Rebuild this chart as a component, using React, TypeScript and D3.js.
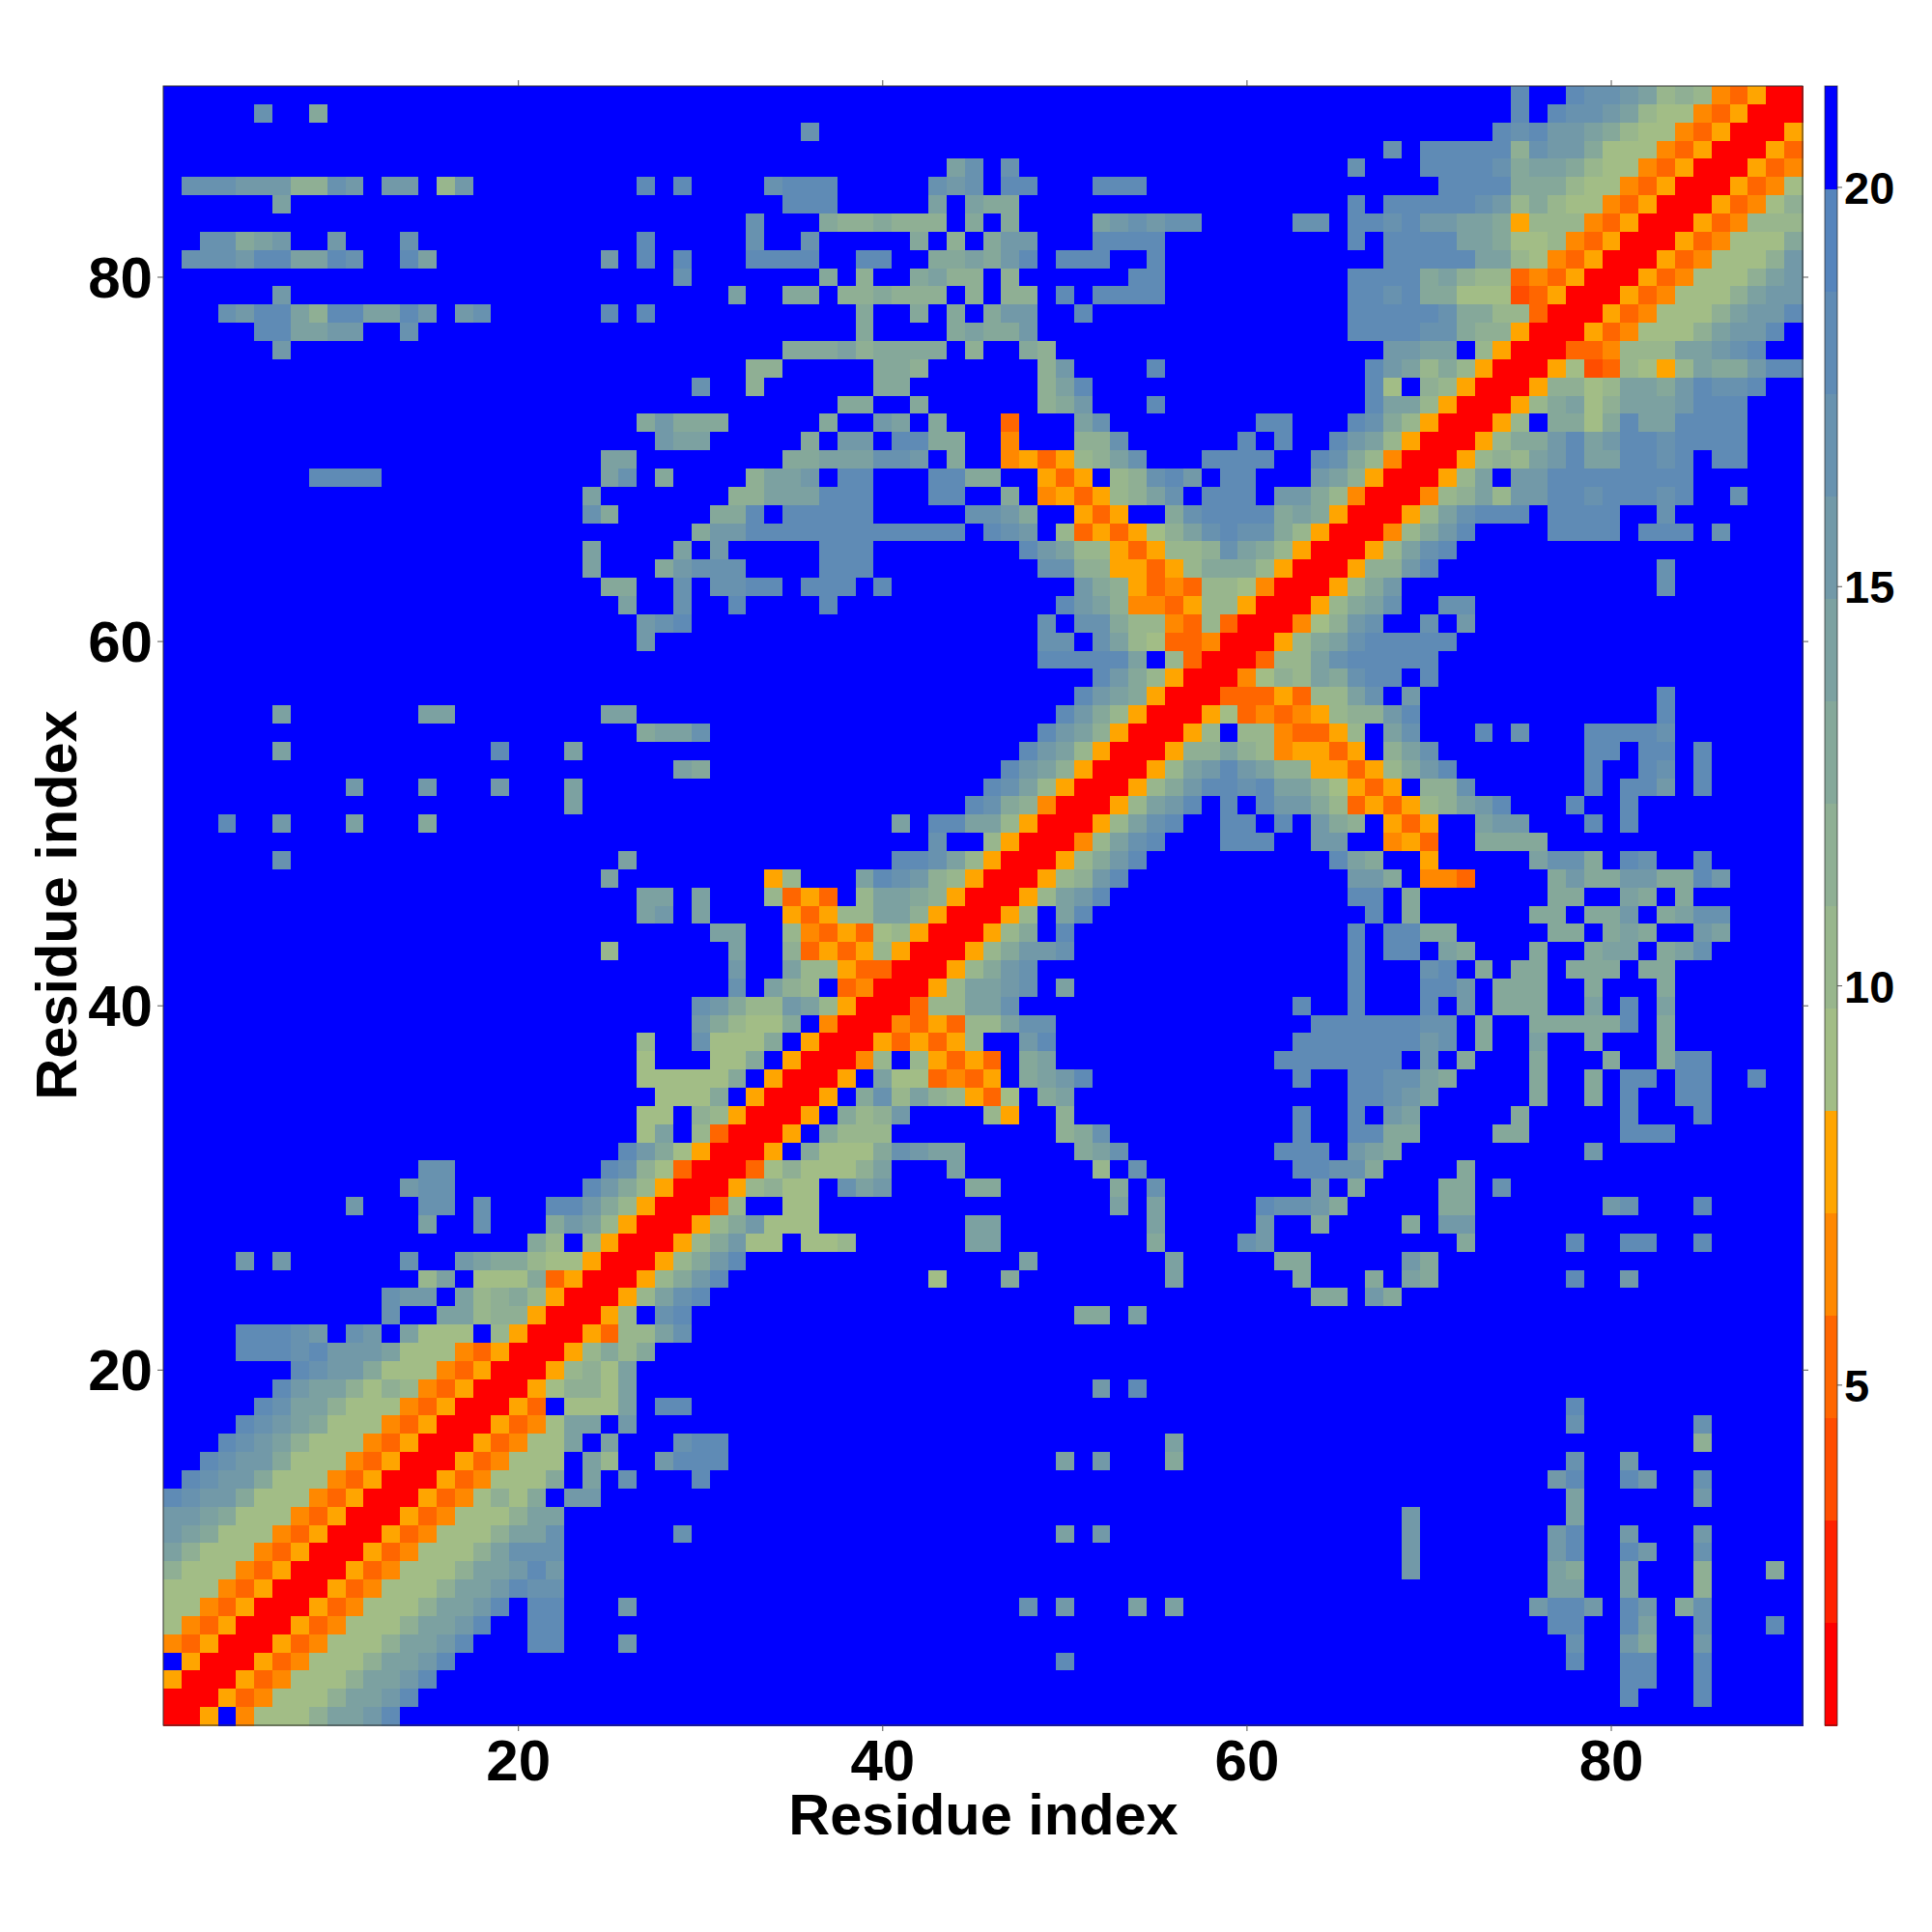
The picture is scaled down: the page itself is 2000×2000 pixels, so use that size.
import React from "react";
import * as d3 from "d3";

// Each row runs top to bottom (residue 90 down to 1). Tokens: startColumn:levels (0-based column).
// Levels: R,1,2,3,4,5 = red to amber bands; a..i = sage to steel bands; anything absent = beyond the scale (blue).
const rowsTop: string[] = [
  "74:h 77:hggfebcb435RR",
  "5:g 8:d 74:h 76:hggfebaa435RRR",
  "35:g 73:hghffedbaa435RRR5",
  "67:g 69:hhhhhcgffdaaa435RRR53",
  "43:eg 46:g 65:g 69:hhhhgdeedbaa435RRR534",
  "1:gggfffccgf 12:ff 15:bf 26:h 28:h 33:ghhh 42:gfg 46:hh 51:hhh 70:hhhhdddbaa435RRR534a",
  "6:e 34:hhh 42:e 44:edd 65:h 67:hhhhhgfbdbaa435RRR534ac",
  "32:g 36:dccdccc 44:d 46:d 51:efgfgg 62:gg 65:hhghffeed5bbb435RRR534bbb",
  "2:ggdef 9:f 13:g 26:h 32:g 35:g 41:d 43:c 45:dff 51:hhhh 65:h 67:hhhheedaab435RRR534aaad",
  "1:gggfhheehg 13:he 24:f 26:h 28:h 32:hhhh 38:hh 42:ddedfh 49:hhh 54:h 67:hhhhheeba435RRR534aaacf",
  "28:g 36:d 38:c 41:de 43:cc 46:c 53:hh 65:hhhhdecbb3435RRR534aaacef",
  "6:f 31:e 34:dd 37:ccdccc 44:c 46:cc 49:h 51:hhhh 65:hhghddaaa235RRR534aaaceff",
  "3:gfhhechheehf 16:fg 24:h 26:h 38:d 41:d 43:d 45:dff 50:h 65:hhhhhgddbb3RRR534aaaceffh",
  "5:hheeff 13:g 38:d 43:deddf 65:hhhhggdcc5RRR534aaaceffh",
  "6:f 34:dddecdddd 44:c 47:dc 67:ffee 72:b5RRR334bbbeefgh",
  "32:cc 39:ddc 48:cf 54:h 66:hfebdb5RRR5a23ba5beddfhh",
  "29:g 32:c 39:dd 48:ceh 66:ha 69:cb5RRR5ccabeedfhggh",
  "37:dd 41:d 48:cdf 54:h 66:heeb5RRR5bdeaceeefhhh",
  "26:dfddd 36:d 39:fe 42:d 46:3 50:eg 60:hh 65:hgdb5RRR5b 76:ddadheehhhh",
  "27:fee 35:d 37:ff 40:hhdd 46:4 50:ccg 59:h 61:h 64:hfeb5RRR5bddfhefhhghhhh",
  "24:ee 34:ddeeeggf 43:d 46:4535bceg 57:hhhh 63:hgdb4RRR5bcbefheehhgh 85:hh",
  "8:hhhh 24:eg 27:d 32:ceef 37:hh 42:hhdd 48:535 52:bcghf 58:hh 63:fec5RRR5be 74:ffhhhhhhhh",
  "23:e 31:cceeehhh 42:hh 46:d 48:4535bceg 57:hhh 61:ffdb4RRR4bcebffhhghhhgh 86:g",
  "23:gd 30:ddh 34:hhhhh 44:ggfd 50:535 55:dghhhhded5RRR5beghhh 76:hhhh 82:g",
  "29:dffhhhhhhhhhhhh 45:hgf 49:b3535aceghggdb5RRR4bdfh 76:hhhh 81:hhh 85:g",
  "23:e 28:e 30:f 36:hhh 47:hfebb535bbcgedb5RRR5begh",
  "23:e 27:dfggg 36:hhh 48:ggcc5535bdddb5RRR5ccfh 82:g",
  "24:dd 28:g 30:gghh 35:hhh 39:h 50:fdc5343bba4RRR5bdf 82:g",
  "25:e 28:g 31:h 36:h 49:hfec4435bb5RRR5bdeg 70:gg",
  "26:fgh 48:g 50:ggdbb43b3RRR4acfg 69:g 71:f",
];

const rowsMiddle: string[] = [
  "26:f 48:gg 51:geba334RRR5bdeghhhhh",
  "48:hhhhhe 55:b3RRR3bbeghhhhh",
  "51:hfdb5RRR4acbedghh 69:h",
  "50:hfed5RRR33353bbeg 68:f 82:h",
  "6:e 14:ee 24:ee 49:hfdb5RRR5a34345bccfh 82:h",
  "26:deeg 48:hfec5RRR5b 59:bb4335b 67:eg 72:h 74:g 78:hhhhg",
  "6:e 18:h 22:e 47:hfeb5RRR5ccecb45535 67:ceg 78:hh 81:hh 84:h",
  "28:ed 46:hfec5RRR5befhfecc5535bdfh 78:h 81:hg 84:h",
  "10:f 14:f 18:f 22:e 45:hgeb5RRR5bdfhhgheeca535 69:ccg 78:h 80:hhf 84:h",
  "22:e 44:hgdc4RRR5befh 58:h 60:hffdb3535bcefh 77:h 80:h",
  "3:h 6:f 10:e 14:d 40:e 42:hheeb5RRR5begh 58:hh 61:h 63:fdc 67:535 72:eff 78:h 80:h",
  "42:g 45:b5RRR4begh 58:hhh 63:ff 67:453 72:dddd",
  "6:g 25:e 40:hhgeb5RRR5bdfh 64:hed 69:5 75:eggd 80:hg 84:h",
  "24:e 33:5b 38:ehgfcb5RRR5bcfh 65:ffd 69:443 76:dfddffddhf",
  "26:ee 29:e 33:b353 38:beedc5RRR5befh 65:hh 68:d 76:dd 80:ed 83:d",
  "26:ef 29:e 34:535bbeec5RRR5b 49:eh 66:h 68:d 75:dd 78:ddf 82:degg",
  "30:ee 34:b4353ab5RRR5bd 49:h 65:h 67:hhdd 76:dd 79:ded 84:fe",
  "24:b 31:e 34:c3535b5RRR5bdffg 65:h 67:hh 70:ed 75:d 78:dee 82:deg",
  "31:f 34:ebb533RRR5bdfg 65:h 69:gh 72:d 74:dd 77:ddd 81:dd",
  "31:g 33:ecb 37:34RRR5beefg 49:e 65:h 69:hhf 73:ddd 78:d 82:d",
  "29:gfdbbfeb5RRR3bbeeg 62:h 65:h 69:h 71:f 73:ddd 78:e 80:h 82:e",
  "29:fdbaad 36:4RRR4353bbegg 63:hhhhhhgg 72:d 75:ddddd 80:h 82:d",
  "26:b 29:gaaad 35:5RRR53535b 47:fh 62:hhhhhhhfg 72:d 75:e 78:d 82:d",
  "26:a 30:aad 34:5RRR4b 41:b5353 47:de 61:hhhhhhh 69:f 71:d 75:d 79:d 82:dhh",
  "26:aaaaa 31:d 33:5RRR5 39:eaa3435 47:defh 62:h 65:hhgged 75:d 78:d 80:hh 83:hh 87:h",
  "27:aaa 30:d 32:5RRR5 38:dgbecb53a 48:de 65:hhgfe 75:d 78:d 80:h 83:hh",
  "26:aa 29:cb5RRR5 37:dbcf 45:b5 49:c 62:h 65:h 67:fe 74:d 80:h 84:h",
  "26:ae 29:b3RRR5 36:dbbb 49:cdg 62:h 65:hhdd 73:dd 80:hhh",
  "25:hfda5RRR5 35:daaadgfee 50:deg 61:hhh 65:fed 78:f",
  "14:gg 24:hgca3RRR3acaaace 43:e 51:b 53:g 62:hhggd 71:d",
];

const rowsBottom: string[] = [
  "13:fgg 23:hfdb5RRR5bcaa 37:gef 44:dd 52:d 54:g 63:f 65:d 70:dd 73:g",
  "10:f 14:gg 17:g 21:hhfdb5RRR3b 34:aa 52:e 54:e 60:hggfd 70:dd 79:fg 84:h",
  "14:e 17:g 21:dfeb5RRR5bdfaaa 44:ee 54:e 60:f 63:d 68:d 70:ff",
  "20:db 23:b5RRR5bdfaa 35:aab 44:ee 54:d 59:gf 71:d 77:h 80:hh 84:h",
  "4:f 6:f 13:g 16:feddbaa5RRR5bdfh 47:e 55:e 61:dd 68:fd",
  "14:be 17:aaad35RRR5bdfh 42:a 46:d 55:e 62:d 66:d 68:ed 77:h 80:f",
  "12:gff 16:ebcdb5RRR5begh 63:dd 66:fd",
  "12:g 15:eebcc5RRR5b 27:gh 50:dd 53:e",
  "4:hhhgf 10:gf 13:eaaa 18:b5RRR53bbeg",
  "4:hhhghfffeaaa435RRR5bdbd",
  "7:hgffdaaa435RRR5bcae",
  "6:hfeecacb435RRR5accae 51:f 53:h",
  "5:hgeecaaa435RRR53 22:aaae 27:hh 77:h",
  "4:hgfedaaa435RRR534aee 25:f 77:g 84:g",
  "3:hgfecaaa435RRR534aae 24:e 28:ghh 55:e 84:c",
  "2:hgffdaaa435RRR534aaa 23:eb 27:fhhh 49:e 51:f 55:d 77:g 80:f",
  "1:hgffdaaa435RRR534aaad 23:e 25:g 29:h 76:fh 80:hf 84:g",
  "0:hgffdaaa435RRR534acad 22:ff 77:e 84:f",
  "0:ffedaaa435RRR534aaacee 68:f 77:e",
  "0:fedaaa435RRR534aaaceeg 28:g 49:e 51:f 68:f 76:fh 80:f 84:f",
  "0:ecaaa435RRR534aaaceggg 68:f 76:fh 80:hf 84:g",
  "0:caaa435RRR534aaaceefhf 68:f 76:ed 80:e 84:c 88:d",
  "0:aaa435RRR534aaaceefhgg 76:ee 80:e 84:c",
  "0:aa435RRR534aaaceefh 20:hh 25:f 47:g 49:f 53:e 55:e 75:fhhf 80:hf 83:dg",
  "0:a435RRR534aaaceefh 20:hh 76:hh 80:he 84:g 88:h",
  "0:435RRR534aaaceefh 20:hh 25:f 77:g 80:fd 84:f",
  "1:5RRR534aaaceefh 49:h 77:h 80:hh 84:h",
  "0:5RRR534aaaceefh 80:hh 84:h",
  "0:RRR534aaaceefh 80:h 84:h",
  "0:RR5 4:4aaaceefh",
];

const residueTicks = [20, 40, 60, 80];
const colorTicks = [5, 10, 15, 20];
const levelCodes = "R12345abcdefghi.";
const warmBands = ["#ff0000", "#ff2200", "#ff4d00", "#ff6600", "#ff8800", "#ffa500"];
const coolEnds = ["#a2bd86", "#5584bc"];
const beyondColor = "#0000ff";
const axisTitle = "Residue index";
const scaleMin = 0.74;
const scaleMax = 21.27;

const plot = { left: 169, top: 89, size: 1697 };
const bar = { left: 1889, width: 13 };
const font = '"Liberation Sans", Arial, sans-serif';

const coolBands = d3.range(9).map((i) => d3.interpolateRgb(coolEnds[0], coolEnds[1])(i / 8));
const palette = [...warmBands, ...coolBands, beyondColor];

type Cell = { residueX: number; residueY: number; value: number };

const nLevels = palette.length;
const levelValue = (code: string) =>
  scaleMin + ((levelCodes.indexOf(code) + 0.5) * (scaleMax - scaleMin)) / nLevels;

function parseCells(): Cell[] {
  const rows = [...rowsTop, ...rowsMiddle, ...rowsBottom];
  const cells: Cell[] = [];
  rows.forEach((row, r) => {
    const line = new Array(90).fill(".");
    row.split(" ").forEach((token) => {
      const [start, levels] = token.split(":");
      levels.split("").forEach((ch, i) => (line[+start + i] = ch));
    });
    line.forEach((ch, c) => cells.push({ residueX: c + 1, residueY: 90 - r, value: levelValue(ch) }));
  });
  return cells;
}

export default function App() {
  const cells = parseCells();
  const residues = d3.range(1, 91);
  const x = d3.scaleBand<number>().domain(residues).range([plot.left, plot.left + plot.size]);
  const y = d3.scaleBand<number>().domain([...residues].reverse()).range([plot.top, plot.top + plot.size]);
  const color = d3.scaleQuantize<string>().domain([scaleMin, scaleMax]).range(palette);
  const cy = d3.scaleLinear().domain([scaleMin, scaleMax]).range([plot.top + plot.size, plot.top]);
  const step = (scaleMax - scaleMin) / nLevels;
  const cx = (v: number) => x(v)! + x.bandwidth() / 2;
  const ty = (v: number) => y(v)! + y.bandwidth() / 2;
  const right = plot.left + plot.size;
  const bottom = plot.top + plot.size;
  const tickStroke = "#555";

  return (
    <svg width={2000} height={2000} style={{ position: "absolute", left: 0, top: 0, display: "block", background: "#fff" }}>
      <g shapeRendering="crispEdges">
        {cells.map((d) => (
          <rect
            key={`${d.residueX}-${d.residueY}`}
            x={x(d.residueX)}
            y={y(d.residueY)}
            width={x.bandwidth() + 0.5}
            height={y.bandwidth() + 0.5}
            fill={color(d.value)}
          />
        ))}
      </g>
      <rect x={plot.left} y={plot.top} width={plot.size} height={plot.size} fill="none" stroke="#333" strokeWidth={1} />
      {residueTicks.map((t) => (
        <g key={t} stroke={tickStroke} strokeWidth={1}>
          <line x1={cx(t)} x2={cx(t)} y1={bottom} y2={bottom + 6} />
          <line x1={cx(t)} x2={cx(t)} y1={plot.top} y2={plot.top - 6} />
          <line x1={plot.left} x2={plot.left - 6} y1={ty(t)} y2={ty(t)} />
          <line x1={right} x2={right + 6} y1={ty(t)} y2={ty(t)} />
        </g>
      ))}
      <g fontFamily={font} fontWeight="bold" fill="#000">
        {residueTicks.map((t) => (
          <text key={t} x={cx(t)} y={1843} fontSize={60} textAnchor="middle">
            {t}
          </text>
        ))}
        {residueTicks.map((t) => (
          <text key={t} x={158} y={ty(t) + 21} fontSize={60} textAnchor="end">
            {t}
          </text>
        ))}
        <text x={1018} y={1899} fontSize={59.5} textAnchor="middle">
          {axisTitle}
        </text>
        <text transform={`translate(79,937) rotate(-90)`} fontSize={59.5} textAnchor="middle">
          {axisTitle}
        </text>
        {colorTicks.map((t) => (
          <text key={t} x={1909} y={cy(t) + 17} fontSize={47}>
            {t}
          </text>
        ))}
      </g>
      <g shapeRendering="crispEdges">
        {palette.map((c, i) => (
          <rect
            key={c + i}
            x={bar.left}
            y={cy(scaleMin + (i + 1) * step)}
            width={bar.width}
            height={cy(scaleMin) - cy(scaleMin + step) + 0.5}
            fill={c}
          />
        ))}
      </g>
      <rect x={bar.left} y={plot.top} width={bar.width} height={plot.size} fill="none" stroke="#222" strokeOpacity={0.7} strokeWidth={1} />
      {colorTicks.map((t) => (
        <line key={t} x1={bar.left + bar.width} x2={bar.left + bar.width + 5} y1={cy(t)} y2={cy(t)} stroke={tickStroke} strokeWidth={1} />
      ))}
    </svg>
  );
}
